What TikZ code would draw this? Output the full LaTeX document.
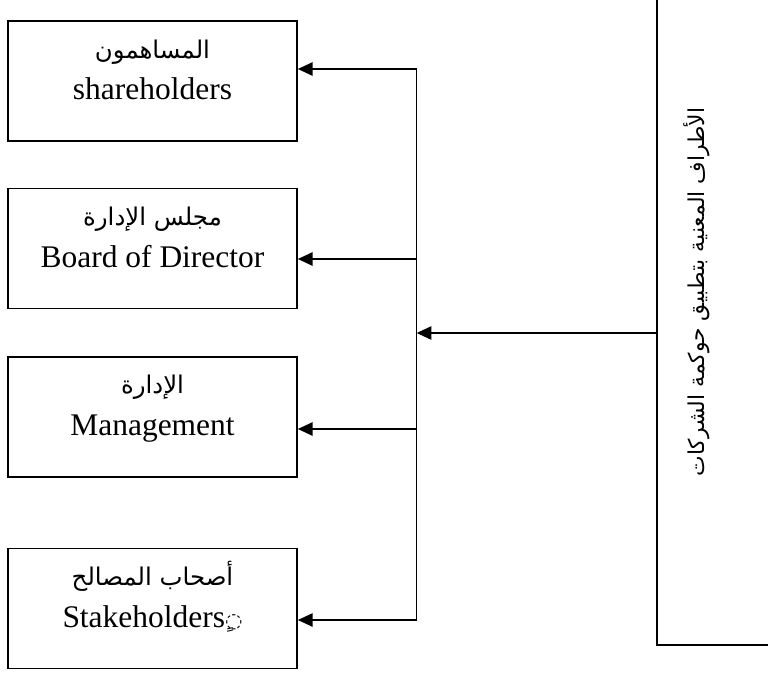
\documentclass[tikz,border=0pt]{standalone}
\usepackage{fontspec}
\setmainfont{Liberation Serif}
\newfontfamily\arabicfont[Script=Arabic]{DejaVu Sans}
\TeXXeTstate=1
\usetikzlibrary{arrows.meta}
\tikzset{
  box/.style={draw, line width=1.3pt, minimum width=216.75pt, minimum height=90pt, inner sep=0pt},
  en/.style={font=\fontsize{23.6}{28}\selectfont, anchor=base, inner sep=0pt},
  ar/.style={font=\arabicfont\fontsize{18.3}{22}\selectfont, anchor=base, inner sep=0pt},
  arv/.style={font=\arabicfont\fontsize{16.4}{20}\selectfont, anchor=center, inner sep=0pt, rotate=90},
  conn/.style={line width=1.1pt},
  arr/.style={line width=1.1pt, -{Triangle[length=11pt,width=10pt]}},
}
\begin{document}
\begin{tikzpicture}[x=0.75pt,y=-0.75pt]
\useasboundingbox (0,0) rectangle (768,672);
\clip (0,0) rectangle (768,672);
% left boxes
\node[box] (b1) at (152.5,81) {};
\node[box] (b2) at (152.5,248.5) {};
\node[box] (b3) at (152.5,417) {};
\node[box] (b4) at (152.5,608.5) {};
\node[ar] (a1) at (152.5,58) {\beginR المساهمون\endR};
\node[en] (e1) at (152.5,99.5) {shareholders};
\node[ar] (a2) at (152.5,225.5) {\beginR مجلس الإدارة\endR};
\node[en] (e2) at (152.5,267.5) {Board of Director};
\node[ar] (a3) at (152.5,393.5) {\beginR الإدارة\endR};
\node[en] (e3) at (152.5,435.5) {Management};
\node[ar] (a4) at (152.5,585) {\beginR أصحاب المصالح\endR};
\node[en] (e4) at (152.5,627) {Stakeholders{\arabicfont\fontsize{15}{18}\selectfont ◌ٍ}};
% right box
\node[draw, line width=1.3pt, minimum width=107.25pt, minimum height=491.25pt, inner sep=0pt] (rb) at (728.5,317.5) {};
\node[arv] (rt) at (697,292) {\beginR الأطراف المعنية بتطبيق حوكمة الشركات\endR};
% connectors
\coordinate (j1) at (416.7,69);
\coordinate (j2) at (416.7,259);
\coordinate (j3) at (416.7,429);
\coordinate (j4) at (416.7,620);
\coordinate (jc) at (416.7,333);
\draw[conn] (j1) -- (j4);
\draw[arr] (j1) -- (j1 -| b1.east);
\draw[arr] (j2) -- (j2 -| b2.east);
\draw[arr] (j3) -- (j3 -| b3.east);
\draw[arr] (j4) -- (j4 -| b4.east);
\draw[arr] (jc -| rb.west) -- (jc);
\end{tikzpicture}
\end{document}
